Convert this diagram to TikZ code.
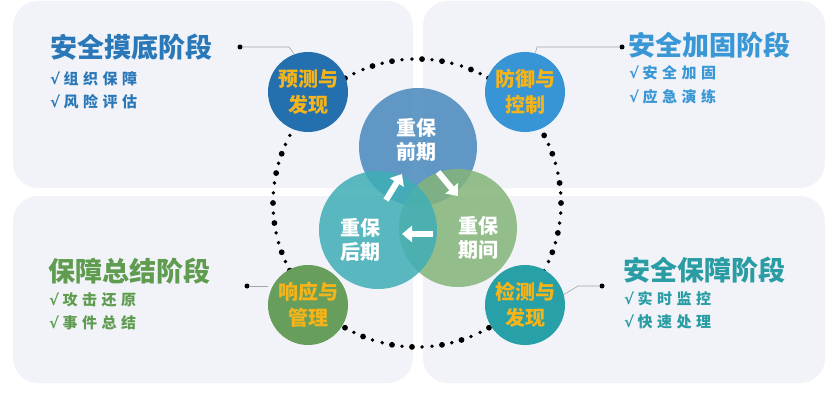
\documentclass[tikz,border=0pt]{standalone}
\usepackage{fontspec}
\setmainfont{Noto Sans CJK SC}
\newfontfamily\chk{DejaVu Sans}
\usetikzlibrary{arrows.meta}
\definecolor{panel}{HTML}{F1F3F8}
\definecolor{cA}{HTML}{2B78B8}
\definecolor{cB}{HTML}{3A97D6}
\definecolor{cC}{HTML}{5F9C50}
\definecolor{cD}{HTML}{2A9CA3}
\definecolor{sA}{HTML}{2470AE}
\definecolor{sB}{HTML}{3795D6}
\definecolor{sC}{HTML}{689E5B}
\definecolor{sD}{HTML}{28A0A8}
\definecolor{vA}{HTML}{4788BC}
\definecolor{vB}{HTML}{84B47A}
\definecolor{vC}{HTML}{3FAEB6}
\definecolor{yel}{HTML}{F4B41A}
\newcommand{\ck}{{\chk\bfseries √}\hspace{3.5pt}}
\newcommand{\gp}{\hspace{4.5pt}}
\begin{document}
\begin{tikzpicture}[x=1pt,y=-1pt,
  panelbox/.style={fill=panel, rounded corners=25pt},
  stage/.style={circle, minimum size=80pt, inner sep=0pt, text=yel, align=center,
    font=\fontsize{20}{26}\selectfont\bfseries},
  venn/.style={circle, minimum size=118pt, inner sep=0pt, fill opacity=0.85},
  venntext/.style={text=white, align=center, font=\fontsize{20}{24}\selectfont\bfseries},
  title/.style={anchor=west, inner sep=0pt, font=\fontsize{27}{30}\selectfont\bfseries},
  item/.style={anchor=west, inner sep=0pt, font=\fontsize{15}{18}\selectfont\bfseries},
  lead/.style={draw=gray!70, line width=0.6pt},
  enddot/.style={circle, fill=black, inner sep=0pt, minimum size=5pt},
  blockarrow/.style={draw=white, line width=6pt, -{Triangle[width=16pt,length=10pt]}}
]
\useasboundingbox (0,0) rectangle (830,393);
\fill[white] (0,0) rectangle (830,393);
% panels
\fill[panelbox] (13,1) rectangle (413,188);
\fill[panelbox] (423,1) rectangle (825,188);
\fill[panelbox] (13,196) rectangle (413,383);
\fill[panelbox] (423,196) rectangle (825,383);
% dotted circle
\foreach \i in {0,...,89} {
  \pgfmathsetmacro\ang{\i*4}
  \pgfmathsetmacro\px{417+144*cos(\ang)}
  \pgfmathsetmacro\py{203+144*sin(\ang)}
  \pgfmathsetmacro\rad{(mod(\i*7,5)<2) ? 2.9 : 1.9}
  \fill (\px,\py) circle[radius=\rad pt];
}
% venn
\node[venn, fill=vA] (pre) at (418,147) {};
\node[venn, fill=vB] (mid) at (458,228) {};
\node[venn, fill=vC] (post) at (378,230) {};
\node[venntext] (preT) at (416,140) {重保\\前期};
\node[venntext] (midT) at (478,238) {重保\\期间};
\node[venntext] (postT) at (360,240) {重保\\后期};
\coordinate (a1s) at (386,200); \coordinate (a1e) at (402,174);
\coordinate (a2s) at (438,172); \coordinate (a2e) at (458,196);
\coordinate (a3s) at (433,234); \coordinate (a3e) at (402,234);
\draw[blockarrow] (a1s) -- (a1e);
\draw[blockarrow] (a2s) -- (a2e);
\draw[blockarrow] (a3s) -- (a3e);
% stage circles
\node[stage, fill=sA] (s1) at (308,92) {预测与\\发现};
\node[stage, fill=sB] (s2) at (525,92) {防御与\\控制};
\node[stage, fill=sC] (s3) at (308,305) {响应与\\管理};
\node[stage, fill=sD] (s4) at (525,305) {检测与\\发现};
% leaders
\node[enddot] (d1) at (240,47) {};
\node[enddot] (d2) at (622,47) {};
\node[enddot] (d3) at (247,286) {};
\node[enddot] (d4) at (602,286) {};
\draw[lead] (d1) -- (289,47) -- (s1.110);
\draw[lead] (d2) -- (537,47) -- (s2.75);
\draw[lead] (d3) -- (s3.west |- d3);
\draw[lead] (d4) -- (578,286) -- (s4.15);
% texts
\node[title, text=cA] (t1) at (50,47) {安全摸底阶段};
\node[item, text=cA] (t1a) at (50,79) {\ck 组\gp 织\gp 保\gp 障};
\node[item, text=cA] (t1b) at (50,102) {\ck 风\gp 险\gp 评\gp 估};
\node[title, text=cB] (t2) at (628,45) {安全加固阶段};
\node[item, text=cB] (t2a) at (629,73) {\ck 安\gp 全\gp 加\gp 固};
\node[item, text=cB] (t2b) at (629,97) {\ck 应\gp 急\gp 演\gp 练};
\node[title, text=cC] (t3) at (48,271) {保障总结阶段};
\node[item, text=cC] (t3a) at (49,300) {\ck 攻\gp 击\gp 还\gp 原};
\node[item, text=cC] (t3b) at (49,323) {\ck 事\gp 件\gp 总\gp 结};
\node[title, text=cD] (t4) at (623,270) {安全保障阶段};
\node[item, text=cD] (t4a) at (624,299) {\ck 实\gp 时\gp 监\gp 控};
\node[item, text=cD] (t4b) at (624,322) {\ck 快\gp 速\gp 处\gp 理};
\end{tikzpicture}
\end{document}
